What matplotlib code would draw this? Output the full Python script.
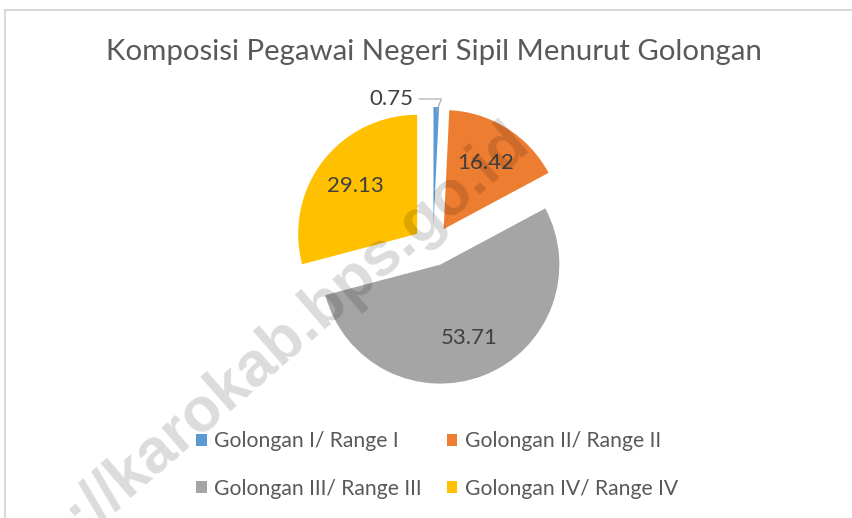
import matplotlib.pyplot as plt
from matplotlib.patches import Rectangle
import numpy as np

categories = ['Golongan I/ Range I', 'Golongan II/ Range II',
              'Golongan III/ Range III', 'Golongan IV/ Range IV']
values = [0.75, 16.42, 53.71, 29.13]
colors = ['#5B9BD5', '#ED7D31', '#A5A5A5', '#FFC000']

W, H = 852, 518
fig = plt.figure(figsize=(W / 100, H / 100), dpi=100)
ax = fig.add_axes([0, 0, 1, 1])

cx, cy, r = 433, H - 246, 119
gap = 20  # explode distance in pixels
wedges, _ = ax.pie(values, colors=colors, startangle=90, counterclock=False,
                   center=(cx, cy), radius=r, explode=[gap] * 4,
                   wedgeprops=dict(linewidth=0))
ax.set_xlim(0, W)
ax.set_ylim(0, H)
ax.set_aspect('equal')
ax.axis('off')

# value labels
for i, w in enumerate(wedges):
    mid = np.deg2rad((w.theta1 + w.theta2) / 2)
    if i == 0:
        px = w.center[0] + r * 0.95 * np.cos(mid)
        py = w.center[1] + r * 0.95 * np.sin(mid)
        ax.annotate(f'{values[i]:.2f}', xy=(px, py), xytext=(px - 45, py + 14),
                    ha='center', va='center', fontsize=16, color='#404040',
                    family='Lato',
                    arrowprops=dict(arrowstyle='-', color='#a6a6a6', lw=0.8,
                                    shrinkA=2, shrinkB=0,
                                    connectionstyle='angle,angleA=0,angleB=70,rad=0'))
    else:
        d = 0.66 * r
        ax.text(w.center[0] + d * np.cos(mid), w.center[1] + d * np.sin(mid),
                f'{values[i]:.2f}', ha='center', va='center', fontsize=16,
                color='#404040', family='Lato')

fig.text(434 / W, 1 - 52 / H, 'Komposisi Pegawai Negeri Sipil Menurut Golongan',
         ha='center', va='center', fontsize=21.2, color='#595959', family='Lato')

# legend filled row by row
order = [0, 2, 1, 3]
leg = fig.legend([wedges[k] for k in order], [categories[k] for k in order],
                 ncol=2, loc='center',
                 bbox_to_anchor=(437 / W, 1 - 465 / H), frameon=False,
                 prop=dict(family='Lato', size=15.2), labelcolor='#595959',
                 handlelength=0.5, handleheight=0.5, handletextpad=0.35,
                 columnspacing=1.2, labelspacing=1.3)

# chart frame
fig.add_artist(Rectangle((5 / W, -0.1), 1.2, 1.1 - 10 / H, transform=fig.transFigure,
                         fill=False, edgecolor='#d9d9d9', lw=1.5))

# watermark
fig.text(532 / W, 1 - 146 / H, 'https://karokab.bps.go.id', ha='right', va='baseline',
         rotation=41, rotation_mode='anchor', fontsize=45, fontweight='bold',
         family='Liberation Sans', color='black', alpha=0.14, zorder=10)

fig.savefig('out.png', dpi=100)
